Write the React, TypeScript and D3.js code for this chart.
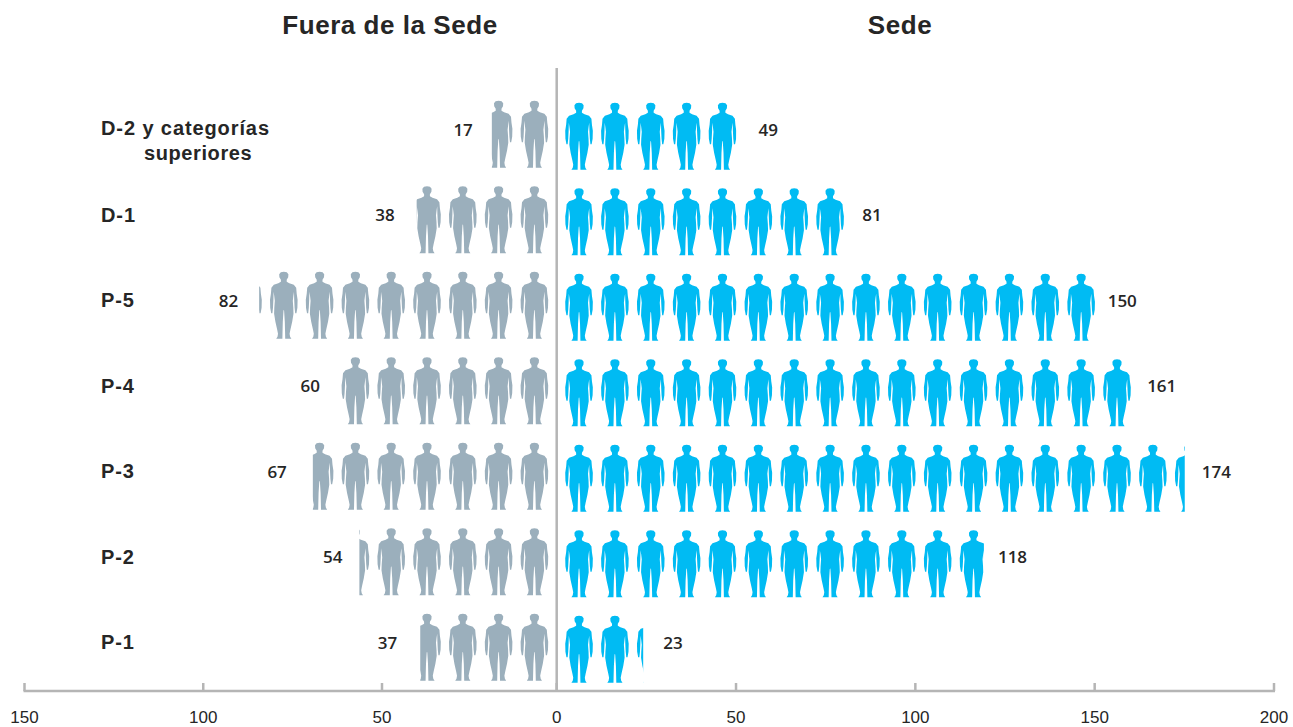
import React from "react";
import * as d3 from "d3";

const categories = ["D-2", "D-1", "P-5", "P-4", "P-3", "P-2", "P-1"];
const categoryLines = [["D-2 y categorías", "superiores"], ["D-1"], ["P-5"], ["P-4"], ["P-3"], ["P-2"], ["P-1"]];
const fueraValues = [17, 38, 82, 60, 67, 54, 37];
const sedeValues = [49, 81, 150, 161, 174, 118, 23];
const tickValues = [-150, -100, -50, 0, 50, 100, 150, 200];
const PERSON_UNIT = 10;

const halfOutline: [number, number][] = [
  [0, 0], [3, 0.4], [4.6, 2.5], [4.4, 5.5], [2.9, 8], [2.9, 10], [5.5, 11.5], [10, 13], [12.4, 16], [12.9, 22],
  [13.8, 28], [13.6, 36], [12.6, 41.5], [11.4, 41.5], [10.8, 36], [10.4, 28], [10.2, 20], [9.6, 24], [9, 29], [9.5, 36],
  [9.7, 42], [8.4, 50], [6.6, 58], [5.8, 62], [6.3, 65], [7.6, 67], [1.4, 67], [1.3, 62], [1, 50], [0.3, 39], [0, 38],
];
const outline: [number, number][] = [...halfOutline, ...halfOutline.slice(1, -1).reverse().map(([x, y]) => [-x, y] as [number, number])];
const personPath = d3.line().curve(d3.curveLinearClosed)(outline) as string;

// Axis ticks as printed in the reference, and the scale the marks follow.
const xTick = d3.scaleLinear().domain([-150, -50, 0, 200]).range([24.5, 382, 556.7, 1274]);
const x = d3.scaleLinear().domain([-150, 0, 200]).range([19.7, 556.7, 1274]);
const y = d3.scaleBand<string>().domain(categories).range([92, 690.5]).padding(0);

const leftNudge = [-19, -22, -21, -18, -26, -17, -23];
const rightNudge = [22, 11, 9, 9, 17, 14, 20];
const BLUE = "#00BBF3";
const GRAY = "#9BAFBC";
const AXIS = "#B5B5B5";
const TEXT = "#262626";
const SANS = "'Liberation Sans', Arial, sans-serif";
const NUM = "'Open Sans', sans-serif";

function People({ value, side, row }: { value: number; side: 1 | -1; row: number }) {
  const cat = categories[row];
  const center = y(cat)! + y.bandwidth() / 2;
  const top = center - 33.5 + (side === 1 ? 1.5 : -0.5);
  const edge = x(side * value) + side * 4;
  const clipId = `clip-${side}-${row}`;
  const n = Math.ceil(value / PERSON_UNIT) + 1;
  return (
    <g>
      <clipPath id={clipId}>
        <rect x={side === 1 ? 540 : edge} y={top - 5} width={side === 1 ? edge - 540 : 580 - edge} height={80} />
      </clipPath>
      <g clipPath={`url(#${clipId})`} fill={side === 1 ? BLUE : GRAY}>
        {d3.range(n).map((i) => (
          <path key={i} d={personPath} transform={`translate(${x(side * (i + 0.5) * PERSON_UNIT) + side * 4.4},${top})`} />
        ))}
      </g>
    </g>
  );
}

export default function App() {
  return (
    <svg width={1293} height={727} style={{ position: "absolute", left: 0, top: 0 }} fontFamily={SANS}>
      <text x={390} y={34} textAnchor="middle" fontSize={26} fontWeight={700} letterSpacing={0.55} fill={TEXT}>Fuera de la Sede</text>
      <text x={900} y={34} textAnchor="middle" fontSize={26} fontWeight={700} letterSpacing={0.55} fill={TEXT}>Sede</text>

      {categories.map((c, r) => {
        const cy = y(c)! + y.bandwidth() / 2;
        return (
          <g key={c}>
            {categoryLines[r].map((line, k) => (
              <text key={k} x={k === 0 ? 101 : 144} y={(r === 0 ? 135 : cy + 1.5) + k * 25} fontSize={20} fontWeight={700} letterSpacing={k === 0 ? 0.9 : 0.6} fill={TEXT}>{line}</text>
            ))}
            <People value={fueraValues[r]} side={-1} row={r} />
            <People value={sedeValues[r]} side={1} row={r} />
            <text x={x(-fueraValues[r]) - 4 + leftNudge[r]} y={cy + 1} textAnchor="end" fontFamily={NUM} fontSize={17} fontWeight={600} fill={TEXT}>{fueraValues[r]}</text>
            <text x={x(sedeValues[r]) + 4 + rightNudge[r]} y={cy + 1} textAnchor="start" fontFamily={NUM} fontSize={17} fontWeight={600} fill={TEXT}>{sedeValues[r]}</text>
          </g>
        );
      })}

      <line x1={xTick(0)} x2={xTick(0)} y1={68} y2={691} stroke={AXIS} strokeWidth={2.5} />
      <line x1={xTick(-150) - 1} x2={xTick(200) + 1} y1={691} y2={691} stroke={AXIS} strokeWidth={2.5} />
      {tickValues.map((t) => (
        <g key={t}>
          <line x1={xTick(t)} x2={xTick(t)} y1={683} y2={691} stroke={AXIS} strokeWidth={2.5} />
          <text x={xTick(t)} y={723} textAnchor="middle" fontSize={17} fill={TEXT}>{Math.abs(t)}</text>
        </g>
      ))}
    </svg>
  );
}
